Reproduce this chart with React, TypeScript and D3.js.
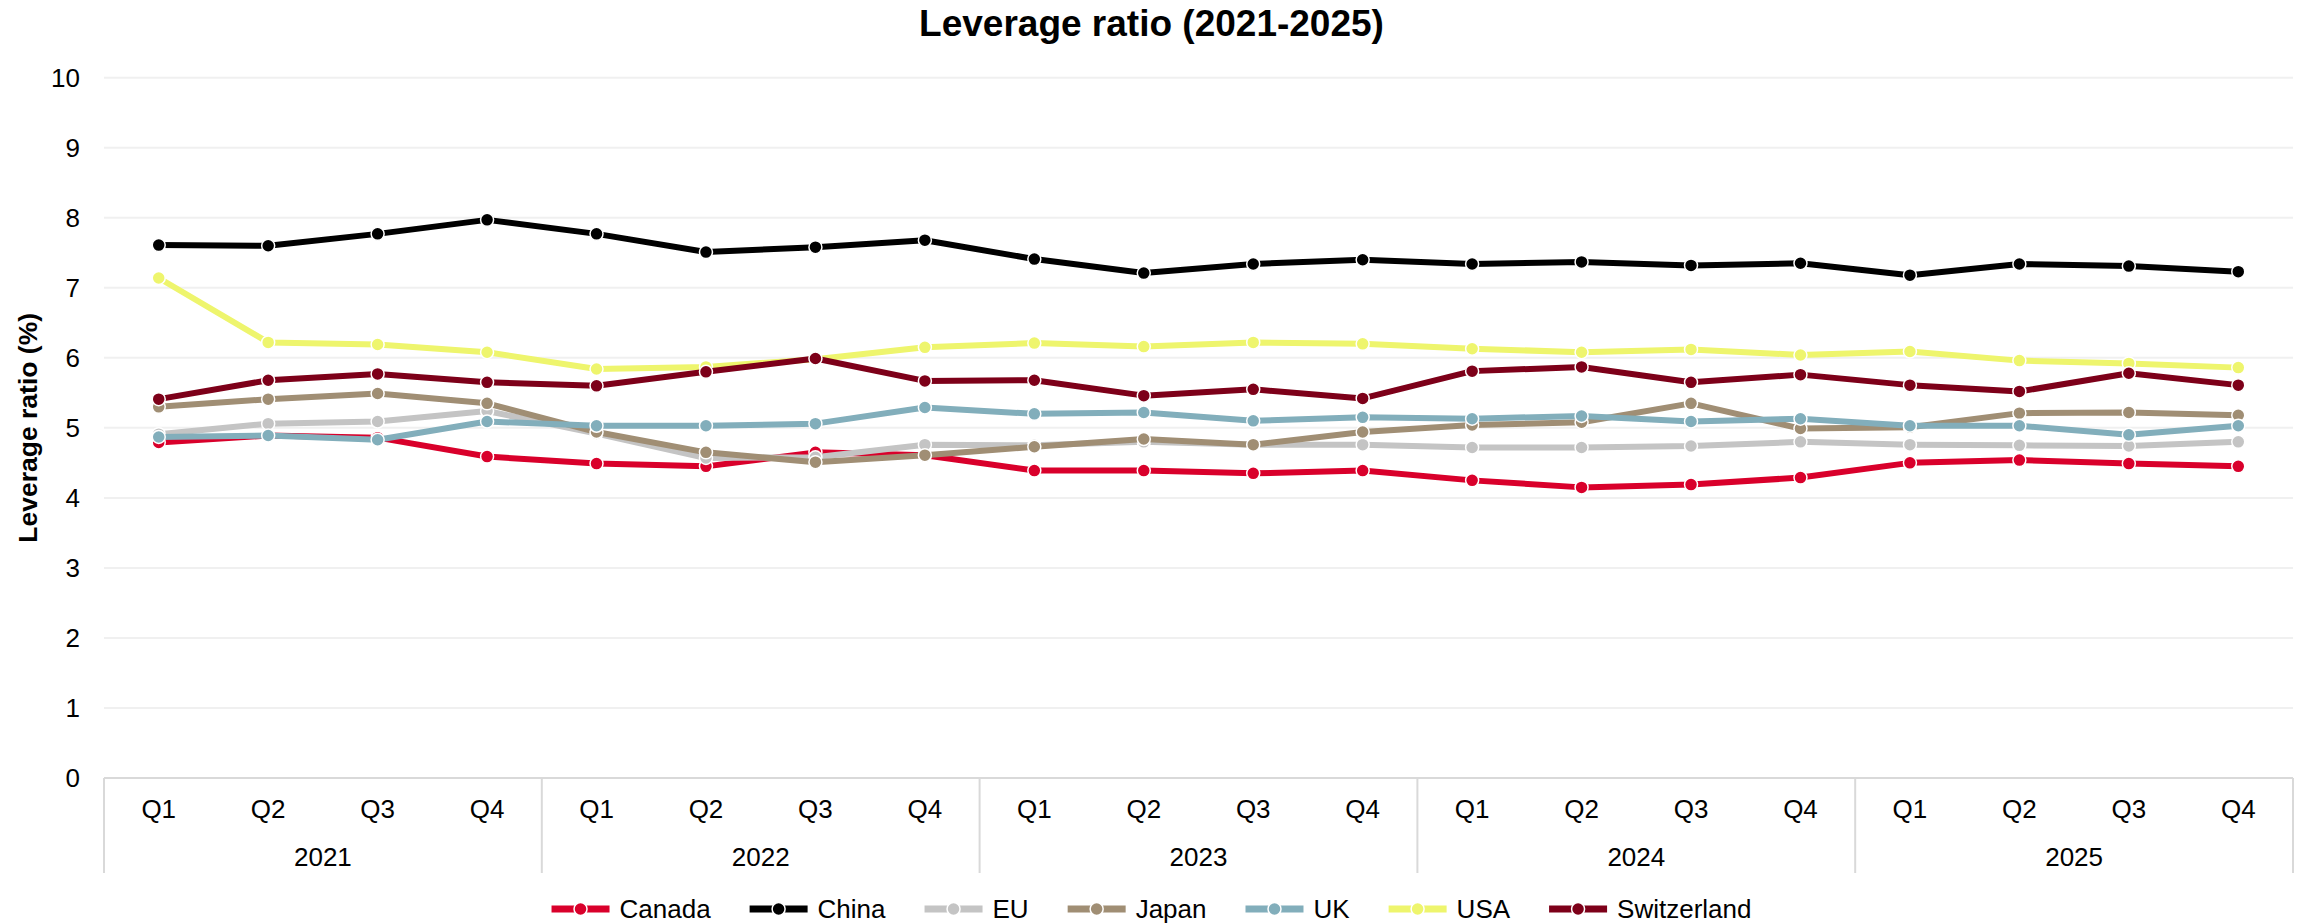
import React, { useMemo } from "react";
import * as d3 from "d3";

const years = ["2021", "2022", "2023", "2024", "2025"];
const quarters = ["Q1", "Q2", "Q3", "Q4"];
const yTicks = [0, 1, 2, 3, 4, 5, 6, 7, 8, 9, 10];

const seriesNames = ["Canada", "China", "EU", "Japan", "UK", "USA", "Switzerland"];
const seriesColors = ["#D9002B", "#000000", "#C4C4C4", "#A08E74", "#82AEBB", "#EEF56D", "#7D0019"];

const canada = [4.79, 4.89, 4.86, 4.59, 4.49, 4.45, 4.65, 4.61, 4.39, 4.39, 4.35, 4.39, 4.25, 4.15, 4.19, 4.29, 4.5, 4.54, 4.49, 4.45];
const china = [7.61, 7.6, 7.77, 7.97, 7.77, 7.51, 7.58, 7.68, 7.41, 7.21, 7.34, 7.4, 7.34, 7.37, 7.32, 7.35, 7.18, 7.34, 7.31, 7.23];
const eu = [4.91, 5.06, 5.09, 5.24, 4.92, 4.57, 4.58, 4.76, 4.75, 4.8, 4.76, 4.76, 4.72, 4.72, 4.74, 4.8, 4.76, 4.75, 4.74, 4.8];
const japan = [5.3, 5.41, 5.49, 5.35, 4.94, 4.65, 4.51, 4.61, 4.73, 4.84, 4.76, 4.94, 5.04, 5.08, 5.35, 4.99, 5.01, 5.21, 5.22, 5.18];
const uk = [4.87, 4.89, 4.83, 5.09, 5.03, 5.03, 5.06, 5.29, 5.2, 5.22, 5.1, 5.15, 5.13, 5.17, 5.09, 5.13, 5.03, 5.03, 4.9, 5.03];
const usa = [7.14, 6.22, 6.19, 6.08, 5.84, 5.87, 5.98, 6.15, 6.21, 6.16, 6.22, 6.2, 6.13, 6.08, 6.12, 6.04, 6.09, 5.96, 5.92, 5.86];
const switzerland = [5.41, 5.68, 5.77, 5.65, 5.6, 5.8, 5.99, 5.67, 5.68, 5.46, 5.55, 5.42, 5.81, 5.87, 5.65, 5.76, 5.61, 5.52, 5.78, 5.61];

const seriesValues = [canada, china, eu, japan, uk, usa, switzerland];

const W = 2303;
const H = 923;
const FONT = "'Liberation Sans', Arial, sans-serif";

export default function App() {
  const categories = useMemo(() => {
    const c: string[] = [];
    years.forEach((y) => quarters.forEach((q) => c.push(`${y}-${q}`)));
    return c;
  }, []);

  const left = 104;
  const right = 2293;
  const top = 77.7;
  const bottom = 778;

  const x = d3.scaleBand<string>().domain(categories).range([left, right]).paddingInner(0).paddingOuter(0);
  const y = d3.scaleLinear().domain([0, 10]).range([bottom, top]);
  const cx = (c: string) => (x(c) as number) + x.bandwidth() / 2;

  const line = d3
    .line<number>()
    .x((_, i) => cx(categories[i]))
    .y((d) => y(d));

  const legendLayout = useMemo(() => {
    const canvas = document.createElement("canvas");
    const ctx = canvas.getContext("2d")!;
    ctx.font = `26px ${FONT}`;
    const lineLen = 58;
    const gapText = 10;
    const gapItem = 39;
    const widths = seriesNames.map((n) => lineLen + gapText + ctx.measureText(n).width);
    const total = widths.reduce((a, b) => a + b, 0) + gapItem * (seriesNames.length - 1);
    let start = W / 2 - total / 2;
    return widths.map((w) => {
      const s = start;
      start += w + gapItem;
      return { x: s, lineLen, gapText };
    });
  }, []);

  const legendY = 909;
  const sepColor = "#D9D9D9";

  return (
    <svg
      width={W}
      height={H}
      style={{ position: "absolute", left: 0, top: 0, background: "#fff", display: "block" }}
      fontFamily={FONT}
    >
      <rect x={0} y={0} width={W} height={H} fill="#fff" />
      <text x={W / 2} y={36} textAnchor="middle" fontSize={37} fontWeight="bold" fill="#000">
        Leverage ratio (2021-2025)
      </text>

      {/* gridlines */}
      {yTicks.map((t) =>
        t === 0 ? null : (
          <line key={t} x1={left} x2={right} y1={y(t)} y2={y(t)} stroke="#F0F0F0" strokeWidth={2} />
        )
      )}
      {yTicks.map((t) => (
        <text key={`yt${t}`} x={80} y={y(t)} textAnchor="end" dominantBaseline="central" fontSize={26} fill="#000">
          {t}
        </text>
      ))}

      <text
        transform={`translate(28, ${(top + bottom) / 2}) rotate(-90)`}
        textAnchor="middle"
        dominantBaseline="central"
        fontSize={26.5}
        fontWeight="bold"
        fill="#000"
      >
        Leverage ratio (%)
      </text>

      {/* x axis */}
      <line x1={left} x2={right} y1={bottom} y2={bottom} stroke={sepColor} strokeWidth={2} />
      {years.map((yr) => {
        const x0 = x(`${yr}-Q1`) as number;
        return <line key={`sep${yr}`} x1={x0} x2={x0} y1={bottom} y2={873} stroke={sepColor} strokeWidth={2} />;
      })}
      <line x1={right} x2={right} y1={bottom} y2={873} stroke={sepColor} strokeWidth={2} />
      {categories.map((c, i) => (
        <text key={`q${c}`} x={cx(c)} y={809} textAnchor="middle" dominantBaseline="central" fontSize={26} fill="#000">
          {quarters[i % 4]}
        </text>
      ))}
      {years.map((yr) => {
        const x0 = x(`${yr}-Q1`) as number;
        const x1 = (x(`${yr}-Q4`) as number) + x.bandwidth();
        return (
          <text key={`yl${yr}`} x={(x0 + x1) / 2} y={857} textAnchor="middle" dominantBaseline="central" fontSize={26} fill="#000">
            {yr}
          </text>
        );
      })}

      {/* series */}
      {seriesValues.map((vals, si) => (
        <g key={seriesNames[si]}>
          <path d={line(vals) || ""} fill="none" stroke={seriesColors[si]} strokeWidth={6} strokeLinejoin="round" />
          {vals.map((v, i) => (
            <circle
              key={i}
              cx={cx(categories[i])}
              cy={y(v)}
              r={6.5}
              fill={seriesColors[si]}
              stroke="#fff"
              strokeWidth={1.5}
            />
          ))}
        </g>
      ))}

      {/* legend */}
      {seriesNames.map((n, si) => {
        const L = legendLayout[si];
        return (
          <g key={`lg${n}`}>
            <line x1={L.x} x2={L.x + L.lineLen} y1={legendY} y2={legendY} stroke={seriesColors[si]} strokeWidth={7} />
            <circle cx={L.x + L.lineLen / 2} cy={legendY} r={6.5} fill={seriesColors[si]} stroke="#fff" strokeWidth={1.5} />
            <text x={L.x + L.lineLen + L.gapText} y={legendY} dominantBaseline="central" fontSize={26} fill="#000">
              {n}
            </text>
          </g>
        );
      })}
    </svg>
  );
}
